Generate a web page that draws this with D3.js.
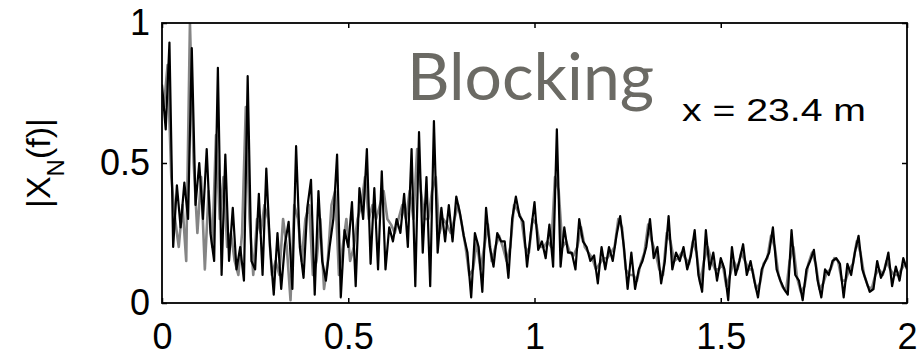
<!DOCTYPE html>
<html>
<head>
<meta charset="utf-8">
<script src="https://cdn.jsdelivr.net/npm/d3@7"></script>
<style>
  html, body { margin: 0; padding: 0; background: #fff; }
  svg { display: block; }
</style>
</head>
<body>
<div id="chart"></div>
<script>
// frequency bins, step 0.01 from 0 to 2
const freqStep = 0.01;

// |X_N(f)| black trace (one value per bin)
const blackValues = [
  0.78, 0.62, 0.93, 0.20, 0.42, 0.27, 0.43, 0.30, 0.91, 0.35,
  0.50, 0.30, 0.55, 0.25, 0.15, 0.84, 0.10, 0.53, 0.15, 0.34,
  0.12, 0.20, 0.08, 0.81, 0.15, 0.12, 0.39, 0.10, 0.48, 0.20,
  0.03, 0.25, 0.05, 0.21, 0.29, 0.05, 0.56, 0.20, 0.09, 0.34,
  0.44, 0.03, 0.40, 0.15, 0.08, 0.20, 0.30, 0.53, 0.02, 0.26,
  0.20, 0.36, 0.06, 0.41, 0.30, 0.55, 0.14, 0.41, 0.12, 0.47,
  0.12, 0.27, 0.22, 0.30, 0.25, 0.39, 0.20, 0.55, 0.06, 0.61,
  0.18, 0.45, 0.06, 0.65, 0.18, 0.34, 0.22, 0.35, 0.22, 0.38,
  0.32, 0.24, 0.18, 0.02, 0.25, 0.20, 0.04, 0.34, 0.20, 0.13,
  0.25, 0.22, 0.22, 0.09, 0.30, 0.38, 0.31, 0.29, 0.13, 0.25,
  0.36, 0.19, 0.22, 0.16, 0.28, 0.13, 0.62, 0.13, 0.27, 0.18,
  0.18, 0.12, 0.30, 0.22, 0.20, 0.15, 0.17, 0.07, 0.20, 0.12,
  0.20, 0.15, 0.24, 0.31, 0.20, 0.05, 0.18, 0.05, 0.12, 0.15,
  0.20, 0.30, 0.16, 0.20, 0.07, 0.15, 0.31, 0.12, 0.18, 0.15,
  0.20, 0.12, 0.17, 0.26, 0.10, 0.04, 0.26, 0.12, 0.18, 0.08,
  0.16, 0.12, 0.01, 0.20, 0.10, 0.15, 0.21, 0.10, 0.15, 0.08,
  0.02, 0.12, 0.15, 0.18, 0.27, 0.12, 0.08, 0.05, 0.03, 0.26,
  0.10, 0.08, 0.01, 0.12, 0.15, 0.19, 0.08, 0.02, 0.12, 0.10,
  0.15, 0.16, 0.14, 0.02, 0.14, 0.10, 0.18, 0.24, 0.12, 0.08,
  0.04, 0.05, 0.15, 0.09, 0.12, 0.18, 0.06, 0.13, 0.08, 0.16,
  0.12
];

// grey trace, sampled half a bin later
const greyValues = [
  0.70, 0.85, 0.45, 0.30, 0.20, 0.35, 0.15, 1.00, 0.50, 0.25,
  0.45, 0.12, 0.40, 0.20, 0.60, 0.30, 0.45, 0.20, 0.25, 0.15,
  0.10, 0.25, 0.70, 0.30, 0.10, 0.30, 0.25, 0.35, 0.30, 0.10,
  0.15, 0.10, 0.30, 0.20, 0.01, 0.35, 0.30, 0.15, 0.30, 0.35,
  0.10, 0.15, 0.30, 0.05, 0.15, 0.35, 0.40, 0.10, 0.20, 0.30,
  0.15, 0.20, 0.30, 0.35, 0.45, 0.30, 0.35, 0.30, 0.35, 0.40,
  0.30, 0.28, 0.25, 0.30, 0.35, 0.30, 0.40, 0.30, 0.55, 0.40,
  0.30, 0.30, 0.40, 0.45, 0.25, 0.30, 0.28, 0.25, 0.30, 0.35,
  0.28, 0.20, 0.10, 0.12, 0.22, 0.12, 0.20, 0.28, 0.15, 0.20,
  0.24, 0.20, 0.15, 0.20, 0.35, 0.33, 0.30, 0.20, 0.18, 0.30,
  0.28, 0.20, 0.20, 0.22, 0.20, 0.45, 0.40, 0.20, 0.22, 0.18,
  0.17, 0.20, 0.27, 0.20, 0.18, 0.16, 0.12, 0.14, 0.16, 0.16,
  0.18, 0.20, 0.30, 0.27, 0.12, 0.10, 0.10, 0.08, 0.14, 0.18,
  0.28, 0.22, 0.18, 0.12, 0.10, 0.25, 0.22, 0.15, 0.16, 0.18,
  0.16, 0.14, 0.22, 0.18, 0.07, 0.15, 0.20, 0.15, 0.12, 0.12,
  0.14, 0.06, 0.10, 0.15, 0.12, 0.18, 0.15, 0.12, 0.12, 0.05,
  0.07, 0.14, 0.16, 0.24, 0.20, 0.10, 0.06, 0.04, 0.15, 0.20,
  0.09, 0.04, 0.06, 0.14, 0.18, 0.14, 0.05, 0.07, 0.11, 0.12,
  0.16, 0.15, 0.08, 0.08, 0.12, 0.14, 0.22, 0.18, 0.10, 0.06,
  0.05, 0.10, 0.12, 0.10, 0.15, 0.12, 0.10, 0.10, 0.12, 0.14
];

const xTicks = [0, 0.5, 1, 1.5, 2];
const yTicks = [0, 0.5, 1];

const width = 918;
const height = 359;
const margin = { top: 23, right: 11, bottom: 56, left: 162 };
const plotW = width - margin.left - margin.right;
const plotH = height - margin.top - margin.bottom;

const svg = d3.select("#chart")
  .append("svg")
  .attr("width", width)
  .attr("height", height);

const g = svg.append("g")
  .attr("transform", `translate(${margin.left},${margin.top})`);

const x = d3.scaleLinear().domain([0, 2]).range([0, plotW]);
const y = d3.scaleLinear().domain([0, 1]).range([plotH, 0]);

svg.append("defs").append("clipPath")
  .attr("id", "plot-clip")
  .append("rect")
  .attr("width", plotW)
  .attr("height", plotH);

const line = d3.line()
  .x(d => x(d[0]))
  .y(d => y(d[1]));

const greyData = greyValues.map((v, i) => [(i + 0.5) * freqStep, v]);
const blackData = blackValues.map((v, i) => [i * freqStep, v]);

const traces = g.append("g").attr("clip-path", "url(#plot-clip)");

traces.append("path")
  .datum(greyData)
  .attr("fill", "none")
  .attr("stroke", "#858585")
  .attr("stroke-width", 2.6)
  .attr("stroke-linejoin", "round")
  .attr("d", line);

traces.append("path")
  .datum(blackData)
  .attr("fill", "none")
  .attr("stroke", "#000")
  .attr("stroke-width", 2.2)
  .attr("stroke-linejoin", "round")
  .attr("d", line);

// axes: ticks point inward, box drawn on all four sides
const tickFont = "'Liberation Sans', Arial, Helvetica, sans-serif";

const xAxis = d3.axisBottom(x)
  .tickValues(xTicks)
  .tickFormat(d3.format("~g"))
  .tickSizeInner(-5)
  .tickSizeOuter(0)
  .tickPadding(20);

const yAxis = d3.axisLeft(y)
  .tickValues(yTicks)
  .tickFormat(d3.format("~g"))
  .tickSizeInner(-5)
  .tickSizeOuter(0)
  .tickPadding(12);

g.append("g")
  .attr("transform", `translate(0,${plotH})`)
  .call(xAxis);

g.append("g").call(yAxis);

g.append("g")
  .call(d3.axisTop(x).tickValues(xTicks).tickSizeInner(-5).tickSizeOuter(0).tickFormat(""));

g.append("g")
  .attr("transform", `translate(${plotW},0)`)
  .call(d3.axisRight(y).tickValues(yTicks).tickSizeInner(-5).tickSizeOuter(0).tickFormat(""));

g.selectAll(".domain").remove();
g.selectAll(".tick line").attr("stroke", "#000").attr("stroke-width", 1.5);
g.selectAll(".tick text")
  .attr("fill", "#000")
  .style("font-family", tickFont)
  .style("font-size", "36px");

g.append("rect")
  .attr("width", plotW)
  .attr("height", plotH)
  .attr("fill", "none")
  .attr("stroke", "#000")
  .attr("stroke-width", 1.8);

// y label |X_N(f)|
const yLabel = svg.append("text")
  .attr("transform", `translate(50,${margin.top + y(0.5)}) rotate(-90)`)
  .attr("text-anchor", "middle")
  .style("font-family", tickFont)
  .style("font-size", "34px")
  .attr("fill", "#000");
yLabel.append("tspan").text("|X");
yLabel.append("tspan").attr("baseline-shift", "sub").style("font-size", "24px").text("N");
yLabel.append("tspan").text("(f)|");

// annotations
svg.append("text")
  .attr("x", 407)
  .attr("y", 100)
  .style("font-family", "Lato, 'Open Sans', sans-serif")
  .style("font-size", "66px")
  .attr("fill", "#6b6a64")
  .text("Blocking");

svg.append("text")
  .attr("x", 682)
  .attr("y", 121)
  .attr("textLength", 184)
  .attr("lengthAdjust", "spacingAndGlyphs")
  .style("font-family", tickFont)
  .style("font-size", "32px")
  .attr("fill", "#000")
  .text("x = 23.4 m");
</script>
</body>
</html>
